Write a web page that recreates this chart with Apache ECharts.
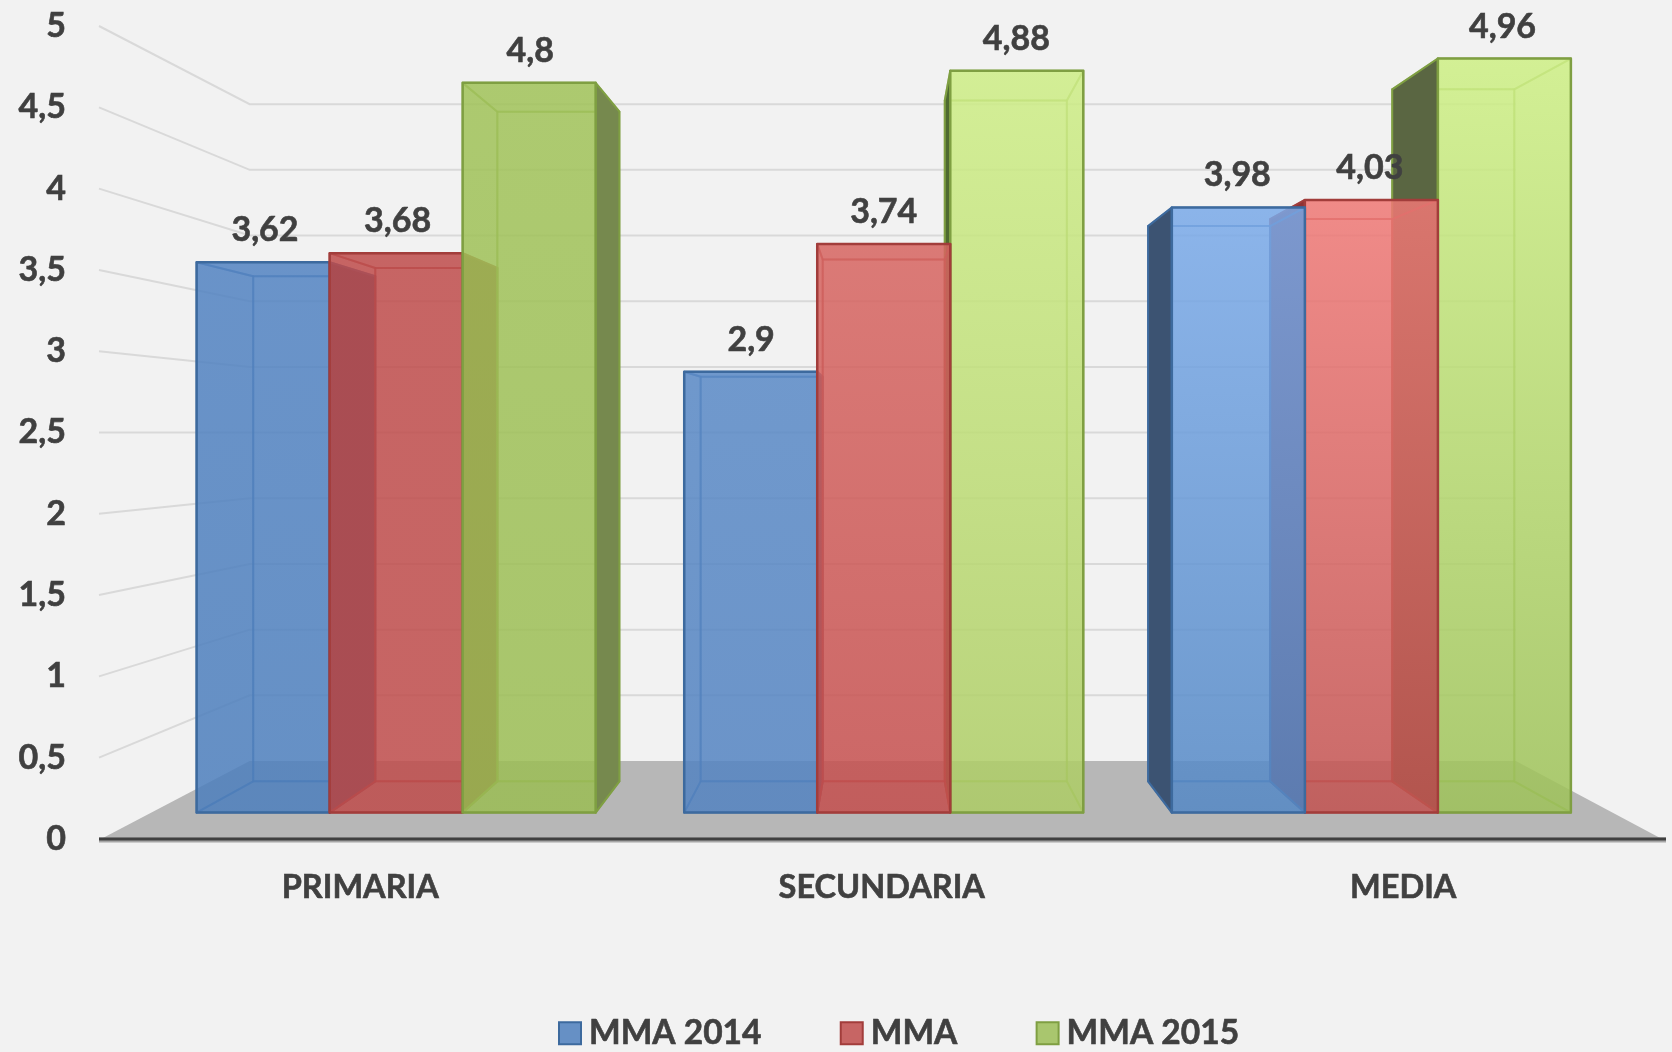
<!DOCTYPE html>
<html>
<head>
<meta charset="utf-8">
<title>MMA</title>
<style>
  html, body { margin: 0; padding: 0; background: #f2f2f2; }
  #chart { width: 1672px; height: 1052px; }
</style>
</head>
<body>
<div id="chart"></div>
<script src="https://cdn.jsdelivr.net/npm/echarts@6/dist/echarts.min.js"></script>
<script>
const categories = ['PRIMARIA', 'SECUNDARIA', 'MEDIA']
const mma2014 = [3.62, 2.9, 3.98]
const mma = [3.68, 3.74, 4.03]
const mma2015 = [4.8, 4.88, 4.96]
const yTicks = [0, 0.5, 1, 1.5, 2, 2.5, 3, 3.5, 4, 4.5, 5]

// perspective: scale factor towards the vanishing point for each depth plane
const VY = 433
const S_BAR_FRONT = 0.935
const S_BAR_BACK = 0.858
const S_WALL = 0.808
const S_LABEL = 0.997 // value labels sit a little closer to the middle than the bars
const BAR_SHARE = 0.2728 // bar width as share of the category band
const WALL_LEFT = 99
const WALL_RIGHT = 1666
const FONT = 'Lato, "Open Sans", sans-serif'
const TEXT_COLOR = '#404040'
const FRONT_ALPHA = 0.85

// front face colours per category: [top, bottom]
const styles = [
  {
    edge: '#3d6a9e', legend: '#6690c5',
    front: [['#6a94c9', '#6690c5'], ['#7099cd', '#6b94c8'], ['#8cb5ea', '#6c98cc']],
    side: ['#2f5580', '#2f5580', '#3c5372']
  },
  {
    edge: '#a23d3b', legend: '#c76564',
    front: [['#c76564', '#c76564'], ['#db7a77', '#cb6766'], ['#f08b89', '#c96a68']],
    side: ['#8f3335', '#8f3335', '#8f3335']
  },
  {
    edge: '#7f9f42', legend: '#a9c66e',
    front: [['#adca70', '#a8c56c'], ['#d3ef96', '#b7d27a'], ['#d3f095', '#abc970']],
    side: ['#76894e', '#4f6a30', '#5a6642']
  }
]

function toFill(hex) {
  // colour that gives hex when laid over the page background
  const n = parseInt(hex.slice(1), 16)
  const ch = [n >> 16, (n >> 8) & 255, n & 255].map(c =>
    Math.max(0, Math.round((c - (1 - FRONT_ALPHA) * 242) / FRONT_ALPHA))
  )
  return `rgba(${ch[0]},${ch[1]},${ch[2]},${FRONT_ALPHA})`
}

function project(pt, s, vx) {
  return [vx + (pt[0] - vx) * s, VY + (pt[1] - VY) * s]
}

function renderBar(seriesIndex, params, api) {
  const cat = api.value(0)
  const value = api.value(1)
  const rect = params.coordSys
  const vx = rect.x + rect.width / 2
  const band = api.size([1, 0])[0]
  const w = band * BAR_SHARE
  const base = api.coord([cat, 0])
  const top = api.coord([cat, value])
  const x0 = base[0] + (seriesIndex - 1.5) * w
  const x1 = x0 + w
  const st = styles[seriesIndex]

  const f = p => project(p, S_BAR_FRONT, vx)
  const b = p => project(p, S_BAR_BACK, vx)
  const fTL = f([x0, top[1]]), fTR = f([x1, top[1]]), fBL = f([x0, base[1]]), fBR = f([x1, base[1]])
  const bTL = b([x0, top[1]]), bTR = b([x1, top[1]]), bBL = b([x0, base[1]]), bBR = b([x1, base[1]])

  // bars nearer the middle of the picture are painted later
  const zBase = 1000 - Math.abs((x0 + x1) / 2 - vx) * S_BAR_FRONT
  const edgeSoft = { stroke: st.edge, lineWidth: 2, opacity: 0.55, lineJoin: 'round' }
  const poly = (points, fill, order, stroke) => ({
    type: 'polygon',
    z2: zBase + order,
    shape: { points: points },
    style: Object.assign({ fill: fill }, stroke)
  })

  const children = []
  const leftOuter = bTL[0] < fTL[0]
  const rightOuter = bTR[0] > fTR[0]
  const soft = 'rgba(255,255,255,0.04)'
  const tint = 'rgba(0,0,0,0.03)'

  children.push(poly([bTL, bTR, bBR, bBL], soft, 0.01, edgeSoft))
  children.push(poly([fBL, fBR, bBR, bBL], tint, 0.02, edgeSoft))
  children.push(poly([fTL, fTR, bTR, bTL], tint, 0.03, edgeSoft))
  if (!leftOuter) children.push(poly([fTL, bTL, bBL, fBL], tint, 0.04, edgeSoft))
  if (!rightOuter) children.push(poly([fTR, bTR, bBR, fBR], tint, 0.05, edgeSoft))
  // side face seen from the outside
  const outerEdge = { stroke: st.edge, lineWidth: 2, lineJoin: 'round' }
  if (leftOuter) children.push(poly([fTL, bTL, bBL, fBL], st.side[cat], 0.06, outerEdge))
  if (rightOuter) children.push(poly([fTR, bTR, bBR, fBR], st.side[cat], 0.07, outerEdge))
  // front face
  children.push({
    type: 'polygon',
    z2: zBase + 0.08,
    shape: { points: [fTL, fTR, fBR, fBL] },
    style: {
      fill: new echarts.graphic.LinearGradient(0, 0, 0, 1, [
        { offset: 0, color: toFill(st.front[cat][0]) },
        { offset: 1, color: toFill(st.front[cat][1]) }
      ]),
      stroke: st.edge,
      lineWidth: 2.5,
      lineJoin: 'round'
    }
  })
  // value label above the front face
  const labelX = vx + ((fTL[0] + fTR[0]) / 2 - vx) * S_LABEL
  children.push({
    type: 'text',
    z2: 5000,
    style: {
      text: String(value).replace('.', ','),
      x: labelX,
      y: fTL[1] - 32,
      align: 'center',
      verticalAlign: 'middle',
      font: `bold 34px ${FONT}`,
      fill: TEXT_COLOR,
      stroke: TEXT_COLOR,
      lineWidth: 0.6
    }
  })
  return { type: 'group', children: children }
}

// floor plane between the axis line and the back wall, plus the axis line itself
function renderFloor(params, api) {
  const rect = params.coordSys
  const vx = rect.x + rect.width / 2
  const y0 = api.coord([0, 0])[1]
  return {
    type: 'group',
    children: [
      {
        type: 'polygon',
        shape: {
          points: [
            [WALL_LEFT + 2, y0],
            project([WALL_LEFT, y0], S_WALL, vx),
            project([WALL_RIGHT, y0], S_WALL, vx),
            [WALL_RIGHT - 4, y0]
          ]
        },
        style: { fill: '#b7b7b7' }
      },
      {
        type: 'line',
        z2: 4000,
        shape: { x1: WALL_LEFT, y1: y0 + 1, x2: WALL_RIGHT, y2: y0 + 1 },
        style: { stroke: '#a6a6a6', lineWidth: 5 }
      },
      {
        type: 'line',
        z2: 4001,
        shape: { x1: WALL_LEFT, y1: y0, x2: WALL_RIGHT, y2: y0 },
        style: { stroke: '#404040', lineWidth: 3 }
      }
    ]
  }
}

// grid line: runs along the left wall, then along the back wall
function renderWallLine(params, api) {
  const rect = params.coordSys
  const vx = rect.x + rect.width / 2
  const y = api.coord([0, api.value(1)])[1]
  if (api.value(1) === 0) return null
  return {
    type: 'polyline',
    shape: {
      points: [[WALL_LEFT, y], project([WALL_LEFT, y], S_WALL, vx), project([WALL_RIGHT, y], S_WALL, vx)]
    },
    style: { fill: null, stroke: '#d9d9d9', lineWidth: 2 }
  }
}

function barSeries(name, values, index) {
  return {
    name: name,
    type: 'custom',
    silent: true,
    z: 3,
    itemStyle: { color: styles[index].legend, borderColor: styles[index].edge, borderWidth: 2 },
    encode: { x: 0, y: 1 },
    data: values.map((v, i) => [i, v]),
    renderItem: (params, api) => renderBar(index, params, api)
  }
}

const chart = echarts.init(document.getElementById('chart'))
chart.setOption({
  animation: false,
  backgroundColor: '#f2f2f2',
  grid: { left: 101.5, right: 6, top: 26, height: 813 },
  legend: {
    left: 553,
    top: 1011,
    itemWidth: 22,
    itemHeight: 22,
    itemGap: 78,
    icon: 'rect',
    data: ['MMA 2014', 'MMA', 'MMA 2015'],
    textStyle: {
      color: TEXT_COLOR,
      fontFamily: 'Lato',
      fontWeight: 'bold',
      fontSize: 33.5,
      textBorderColor: TEXT_COLOR,
      textBorderWidth: 0.6,
      padding: [0, 0, 0, 3]
    }
  },
  xAxis: {
    type: 'category',
    data: categories,
    axisTick: { show: false },
    axisLine: { show: false },
    axisLabel: {
      color: TEXT_COLOR,
      fontFamily: 'Lato',
      fontWeight: 'bold',
      fontSize: 32.5,
      margin: 32,
      padding: [0, 4, 0, 0],
      textBorderColor: TEXT_COLOR,
      textBorderWidth: 0.6
    }
  },
  yAxis: {
    type: 'value',
    min: yTicks[0],
    max: yTicks[yTicks.length - 1],
    interval: 0.5,
    axisLine: { show: false },
    axisTick: { show: false },
    splitLine: { show: false },
    axisLabel: {
      color: TEXT_COLOR,
      fontFamily: 'Lato',
      fontWeight: 'bold',
      fontSize: 34,
      margin: 35.5,
      padding: [7, 0, 0, 0],
      textBorderColor: TEXT_COLOR,
      textBorderWidth: 0.6,
      formatter: v => String(v).replace('.', ',')
    }
  },
  series: [
    {
      type: 'custom',
      silent: true,
      z: 1,
      encode: { x: 0, y: 1 },
      data: yTicks.map(v => [0, v]),
      renderItem: renderWallLine
    },
    {
      type: 'custom',
      silent: true,
      z: 2,
      encode: { x: 0, y: 1 },
      data: [[0, 0]],
      renderItem: renderFloor
    },
    barSeries('MMA 2014', mma2014, 0),
    barSeries('MMA', mma, 1),
    barSeries('MMA 2015', mma2015, 2)
  ]
})
</script>
</body>
</html>
